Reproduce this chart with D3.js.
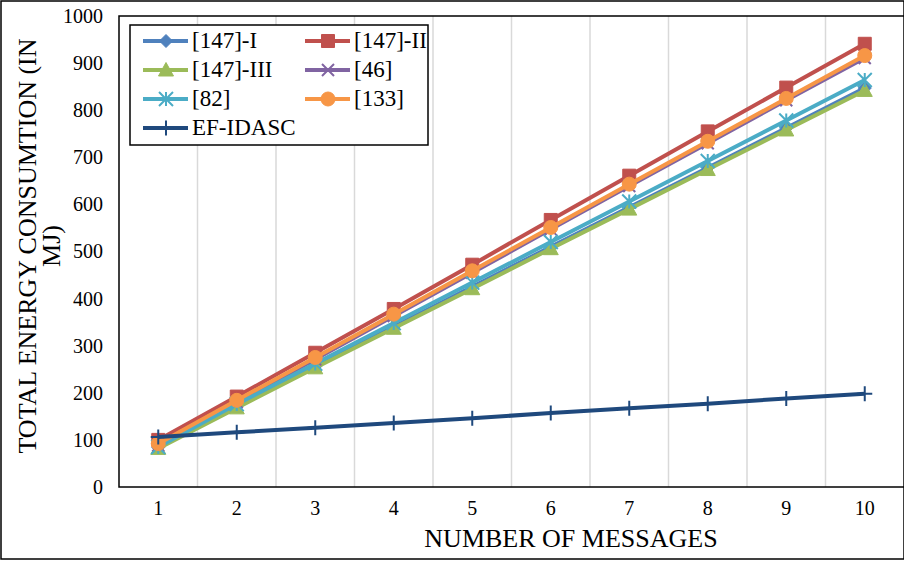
<!DOCTYPE html>
<html>
<head>
<meta charset="utf-8">
<script src="https://cdn.jsdelivr.net/npm/d3@7"></script>
<style>
  html, body { margin: 0; padding: 0; background: #fff; }
  svg { display: block; }
  svg text { font-family: "Liberation Serif", "Times New Roman", serif !important; }
</style>
</head>
<body>
<svg id="chart" width="904" height="561"></svg>
<script>
// ---- data ----
const categories = ["1", "2", "3", "4", "5", "6", "7", "8", "9", "10"];
const seriesNames = ["[147]-I", "[147]-II", "[147]-III", "[46]", "[82]", "[133]", "EF-IDASC"];
const s147I   = [84, 172, 256, 340, 425, 510, 594, 678, 762, 847];
const s147II  = [100, 192, 285, 378, 472, 567, 661, 755, 848, 941];
const s147III = [82, 168, 253, 337, 421, 506, 590, 674, 758, 842];
const s46     = [88, 180, 271, 363, 455, 547, 639, 730, 821, 911];
const s82     = [85, 176, 262, 348, 434, 520, 606, 692, 778, 864];
const s133    = [92, 184, 275, 367, 459, 551, 643, 734, 825, 916];
const sEF     = [106, 116, 126, 136, 146, 157, 167, 177, 188, 198];
const yTicks  = [0, 100, 200, 300, 400, 500, 600, 700, 800, 900, 1000];
const yTitleLines = ["TOTAL ENERGY CONSUMTION (IN", "MJ)"];
const xTitle = "NUMBER OF MESSAGES";

const seriesValues = [s147I, s147II, s147III, s46, s82, s133, sEF];
const colors  = ["#4F81BD", "#C0504D", "#9BBB59", "#8064A2", "#4BACC6", "#F79646", "#1F497D"];
const markers = ["diamond", "square", "triangle", "times", "asterisk", "circle", "plus"];

// ---- layout ----
const FONT = "Liberation Serif";
const svg = d3.select("#chart").attr("font-family", FONT);
const W = 904, H = 561;
const plot = { left: 119, top: 16, right: 904, bottom: 487 };

const x = d3.scaleBand().domain(categories).range([plot.left, plot.right]);
const xc = c => x(c) + x.bandwidth() / 2;
const y = d3.scaleLinear().domain([0, 1000]).range([plot.bottom, plot.top]);

// outer border
svg.append("rect").attr("x", 1).attr("y", 1).attr("width", W - 1).attr("height", H - 3)
  .attr("fill", "#fff").attr("stroke", "#000").attr("stroke-width", 1.5);

// vertical gridlines at band boundaries
svg.append("g").selectAll("line").data(categories.slice(1)).join("line")
  .attr("x1", d => x(d)).attr("x2", d => x(d))
  .attr("y1", plot.top).attr("y2", plot.bottom)
  .attr("stroke", "#d9d9d9").attr("stroke-width", 1.5);

// plot border
svg.append("rect").attr("x", plot.left).attr("y", plot.top)
  .attr("width", plot.right - plot.left + 5).attr("height", plot.bottom - plot.top)
  .attr("fill", "none").attr("stroke", "#000").attr("stroke-width", 1.5);

// y axis
const yAxis = svg.append("g").attr("transform", `translate(${plot.left},0)`)
  .call(d3.axisLeft(y).tickValues(yTicks).tickFormat(d3.format("d")).tickSize(0).tickPadding(16));
yAxis.attr("font-family", FONT).attr("font-size", 20);
yAxis.select(".domain").remove();
yAxis.selectAll("text").attr("fill", "#000");

// x axis
const xAxis = svg.append("g").attr("transform", `translate(0,${plot.bottom})`)
  .call(d3.axisBottom(x).tickSize(0).tickPadding(14));
xAxis.attr("font-family", FONT).attr("font-size", 20);
xAxis.select(".domain").remove();
xAxis.selectAll("text").attr("fill", "#000");

// axis titles
svg.append("text").attr("x", 571).attr("y", 547)
  .attr("text-anchor", "middle").attr("font-size", 26).attr("fill", "#000").text(xTitle);

const yt = svg.append("text").attr("transform", "translate(36,246) rotate(-90)")
  .attr("text-anchor", "middle").attr("font-size", 26).attr("fill", "#000");
yTitleLines.forEach((t, i) => {
  yt.append("tspan").attr("x", 0).attr("dy", i === 0 ? 0 : 24).text(t);
});

// marker path generator
function markerPath(type, s) {
  const h = s / 2;
  switch (type) {
    case "diamond": return `M0,${-h}L${h},0L0,${h}L${-h},0Z`;
    case "square": return `M${-h},${-h}H${h}V${h}H${-h}Z`;
    case "triangle": return `M0,${-h}L${h},${h * 0.8}L${-h},${h * 0.8}Z`;
    case "circle": return `M${h},0A${h},${h} 0 1,1 ${-h},0A${h},${h} 0 1,1 ${h},0Z`;
    case "times": return `M${-h},${-h}L${h},${h}M${-h},${h}L${h},${-h}`;
    case "asterisk": return `M${-h},${-h}L${h},${h}M${-h},${h}L${h},${-h}M0,${-h}V${h}`;
    case "plus": return `M${-h},0H${h}M0,${-h}V${h}`;
  }
}
const filled = t => ["diamond", "square", "triangle", "circle"].includes(t);
const markerSize = { diamond: 13, square: 13, triangle: 15, circle: 14, times: 12, asterisk: 14, plus: 15 };

function drawMarker(g, type, color, cx, cy) {
  const p = g.append("path").attr("d", markerPath(type, markerSize[type]))
    .attr("transform", `translate(${cx},${cy})`);
  if (filled(type)) p.attr("fill", color).attr("stroke", color).attr("stroke-width", 1);
  else p.attr("fill", "none").attr("stroke", color).attr("stroke-width", 2);
}

// series
const line = d3.line().x((d, i) => xc(categories[i])).y(d => y(d));
seriesValues.forEach((vals, si) => {
  const g = svg.append("g");
  g.append("path").datum(vals).attr("d", line)
    .attr("fill", "none").attr("stroke", colors[si]).attr("stroke-width", 4)
    .attr("stroke-linejoin", "round");
  vals.forEach((v, i) => drawMarker(g, markers[si], colors[si], xc(categories[i]), y(v)));
});

// legend
const leg = svg.append("g").attr("font-family", FONT);
leg.append("rect").attr("x", 130).attr("y", 25).attr("width", 298).attr("height", 120)
  .attr("fill", "#fff").attr("stroke", "#000").attr("stroke-width", 1.5);
const colX = [143, 305], rowY = [41, 70, 99, 128];
seriesNames.forEach((name, i) => {
  const cx0 = colX[i % 2], cy0 = rowY[Math.floor(i / 2)];
  leg.append("line").attr("x1", cx0).attr("x2", cx0 + 45).attr("y1", cy0).attr("y2", cy0)
    .attr("stroke", colors[i]).attr("stroke-width", 4);
  drawMarker(leg, markers[i], colors[i], cx0 + 23, cy0);
  leg.append("text").attr("x", cx0 + 49).attr("y", cy0 + 7).attr("font-size", 23)
    .attr("fill", "#000").text(name);
});
</script>
</body>
</html>
